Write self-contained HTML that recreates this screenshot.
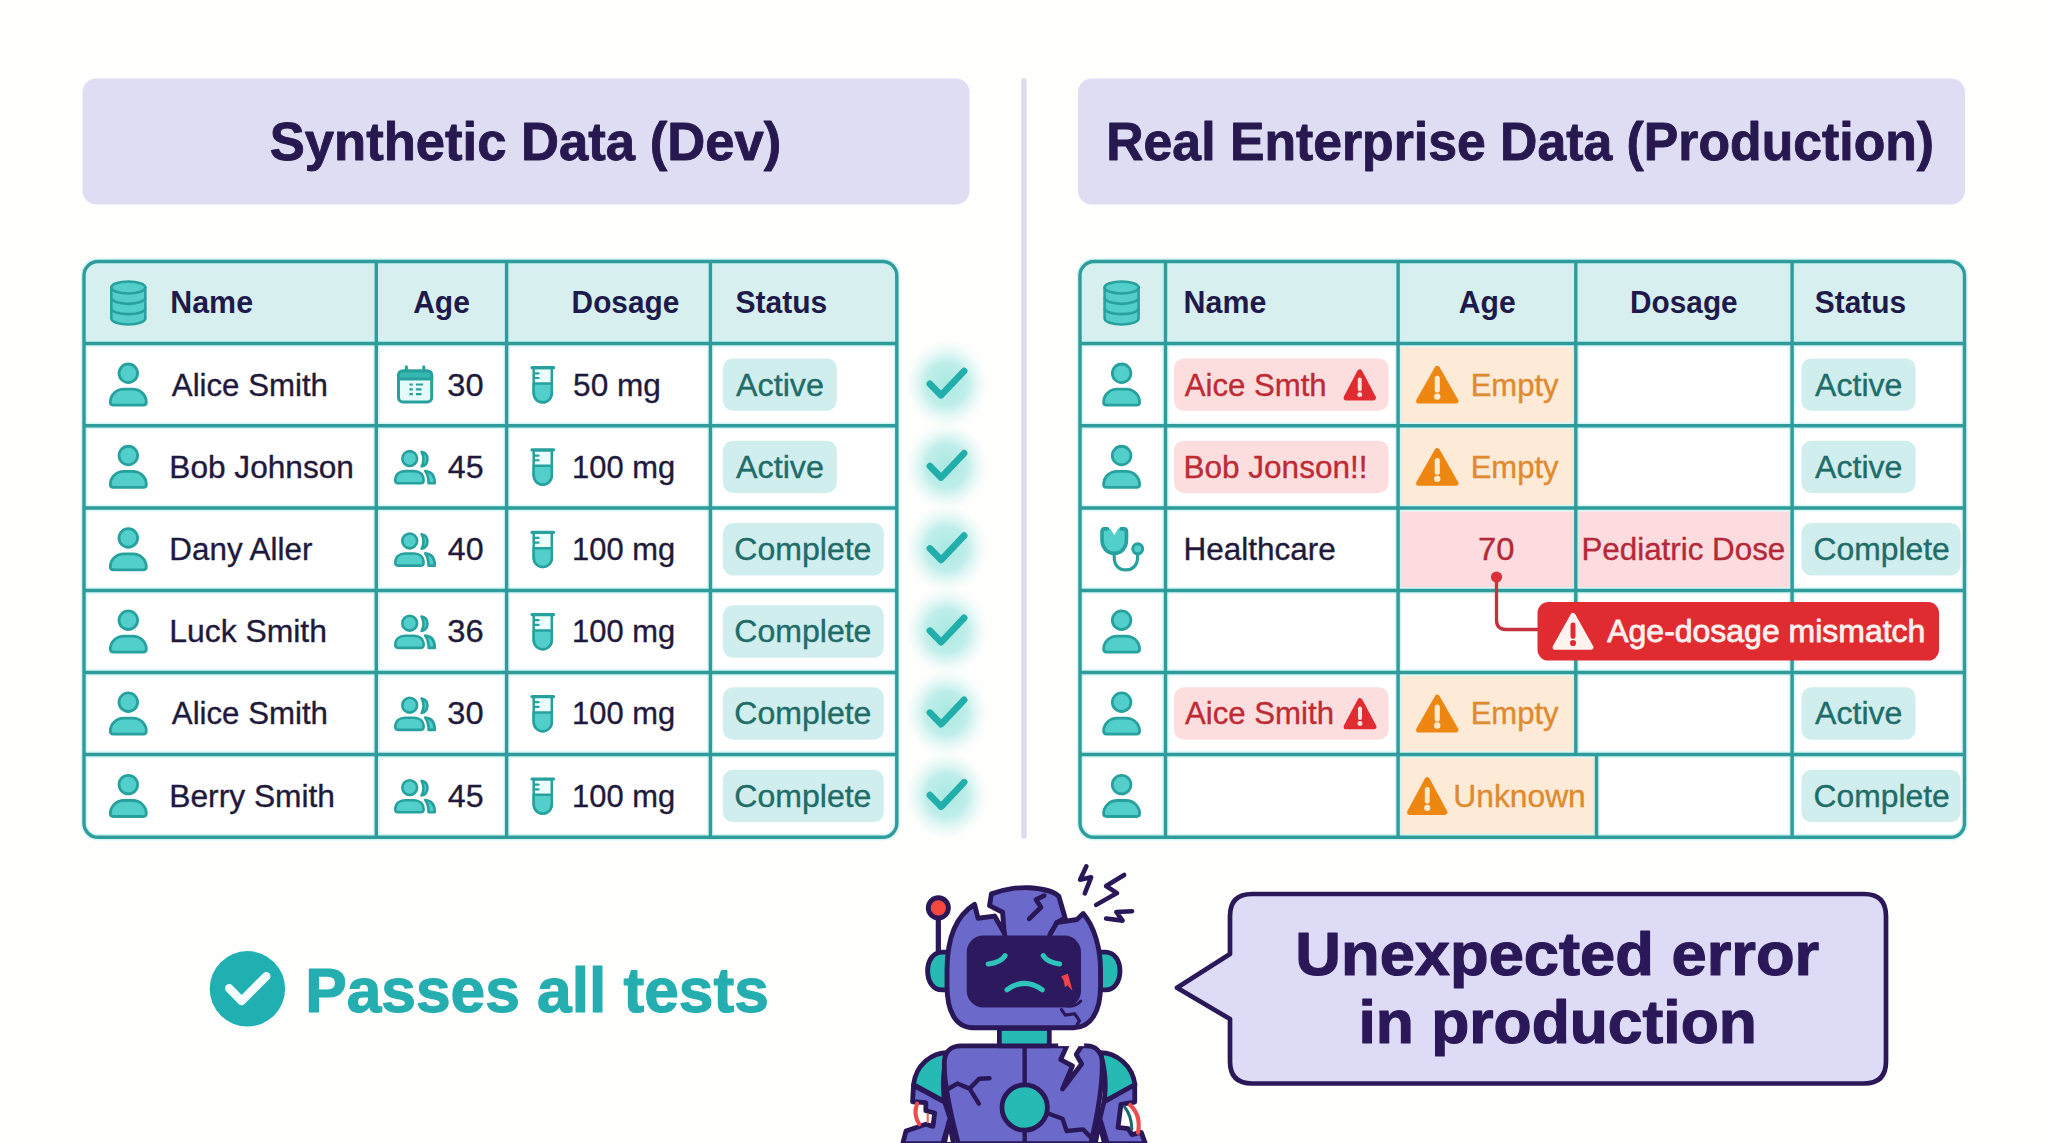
<!DOCTYPE html>
<html lang="en"><head><meta charset="utf-8"><title>Synthetic vs Real Enterprise Data</title>
<style>
html,body{margin:0;padding:0;background:#fefefd;}
body{width:2048px;height:1143px;overflow:hidden;font-family:'Liberation Sans', sans-serif;}
svg{display:block}
</style></head><body>
<svg width="2048" height="1143" viewBox="0 0 2048 1143" font-family="'Liberation Sans', sans-serif">
<defs>
<radialGradient id="glow"><stop offset="0" stop-color="#a9e8e2" stop-opacity="1"/><stop offset="0.5" stop-color="#b4ebe6" stop-opacity="0.85"/><stop offset="0.8" stop-color="#cdf2ee" stop-opacity="0.35"/><stop offset="1" stop-color="#e0f8f5" stop-opacity="0"/></radialGradient>
</defs>
<rect width="2048" height="1143" fill="#fefefd"/>
<rect x="82.5" y="78.5" width="887" height="126" rx="14" fill="#dfddf4"/>
<rect x="1078" y="78.5" width="887" height="126" rx="14" fill="#dfddf4"/>
<text x="269.68" y="159.8" font-size="53.5" fill="#27184f" font-weight="bold" text-anchor="start" textLength="511.64" lengthAdjust="spacingAndGlyphs" stroke="#27184f" stroke-width="0.9" stroke-linejoin="round">Synthetic Data (Dev)</text>
<text x="1106.24" y="159.8" font-size="53.5" fill="#27184f" font-weight="bold" text-anchor="start" textLength="827.84" lengthAdjust="spacingAndGlyphs" stroke="#27184f" stroke-width="0.9" stroke-linejoin="round">Real Enterprise Data (Production)</text>
<rect x="1021.3" y="78.3" width="5.3" height="760.3" rx="2.6" fill="#dcd9f0"/>
<rect x="84" y="261.5" width="812.8" height="575.8" rx="14" fill="#ffffff"/>
<path d="M84,343.5 V275.5 Q84,261.5 98,261.5 H882.8 Q896.8,261.5 896.8,275.5 V343.5 Z" fill="#d7f0ef"/>
<g stroke="#c4f3f2" stroke-opacity="0.75" stroke-width="6.4" fill="none">
<path d="M84,343.5 H896.8"/>
<path d="M84,425.7 H896.8"/>
<path d="M84,508 H896.8"/>
<path d="M84,590.5 H896.8"/>
<path d="M84,672.5 H896.8"/>
<path d="M84,754.5 H896.8"/>
<path d="M376.3,261.5 V837.3"/>
<path d="M506.6,261.5 V837.3"/>
<path d="M710.4,261.5 V837.3"/>
<rect x="84" y="261.5" width="812.8" height="575.8" rx="14"/>
</g>
<g stroke="#2f9c9b" stroke-width="3.4" fill="none">
<path d="M84,343.5 H896.8"/>
<path d="M84,425.7 H896.8"/>
<path d="M84,508 H896.8"/>
<path d="M84,590.5 H896.8"/>
<path d="M84,672.5 H896.8"/>
<path d="M84,754.5 H896.8"/>
<path d="M376.3,261.5 V837.3"/>
<path d="M506.6,261.5 V837.3"/>
<path d="M710.4,261.5 V837.3"/>
<rect x="84" y="261.5" width="812.8" height="575.8" rx="14"/>
</g>
<g stroke="#27a19d" stroke-width="2.6" fill="#52cfca" stroke-linejoin="round">
<path d="M111.30000000000001,287.5 V318.5 A17,6 0 0 0 145.3,318.5 V287.5 Z"/>
<ellipse cx="128.3" cy="287.5" rx="17" ry="6"/>
<path d="M111.30000000000001,297.8333333333333 A17,6 0 0 0 145.3,297.8333333333333" fill="none"/>
<path d="M111.30000000000001,308.1666666666667 A17,6 0 0 0 145.3,308.1666666666667" fill="none"/>
</g>
<text x="170.27" y="313.4" font-size="32" fill="#1e1a4b" font-weight="bold" text-anchor="start" textLength="82.77" lengthAdjust="spacingAndGlyphs">Name</text>
<text x="413.15" y="313.4" font-size="32" fill="#1e1a4b" font-weight="bold" text-anchor="start" textLength="56.67" lengthAdjust="spacingAndGlyphs">Age</text>
<text x="571.61" y="313.4" font-size="32" fill="#1e1a4b" font-weight="bold" text-anchor="start" textLength="107.71" lengthAdjust="spacingAndGlyphs">Dosage</text>
<text x="735.43" y="313.4" font-size="32" fill="#1e1a4b" font-weight="bold" text-anchor="start" textLength="91.80" lengthAdjust="spacingAndGlyphs">Status</text>
<g stroke="#27a19d" stroke-width="2.8" fill="#52cfca" stroke-linejoin="round">
<circle cx="128.3" cy="373.3" r="9.3"/>
<path d="M110.30000000000001,402.20000000000005 C110.30000000000001,394.70000000000005 116.80000000000001,389.20000000000005 123.80000000000001,389.20000000000005 H132.8 C139.8,389.20000000000005 146.3,394.70000000000005 146.3,402.20000000000005 Q146.3,405.20000000000005 143.3,405.20000000000005 H113.30000000000001 Q110.30000000000001,405.20000000000005 110.30000000000001,402.20000000000005 Z"/>
</g>
<text x="171.84" y="395.5" font-size="31" fill="#1f1a3b" font-weight="normal" text-anchor="start" textLength="156.09" lengthAdjust="spacingAndGlyphs" stroke="#1f1a3b" stroke-width="0.35">Alice Smith</text>
<g stroke="#27a19d" stroke-width="3" stroke-linejoin="round" stroke-linecap="round">
<rect x="398.5" y="370.90000000000003" width="33.200000000000045" height="31.099999999999966" rx="4.5" fill="#e4fbfa"/>
<path d="M398.5,378.90000000000003 V375.40000000000003 Q398.5,370.90000000000003 403.0,370.90000000000003 H427.20000000000005 Q431.70000000000005,370.90000000000003 431.70000000000005,375.40000000000003 V378.90000000000003 Z" fill="#35b7b2"/>
<path d="M406.40000000000003,366.70000000000005 V370.90000000000003 M423.8,366.70000000000005 V370.90000000000003" fill="none"/>
</g>
<g stroke="#27a19d" stroke-width="2.2" fill="none">
<path d="M409.40000000000003,384.50000000000006 h3.4 M415.90000000000003,384.50000000000006 h7.2"/>
<path d="M409.40000000000003,389.30000000000007 h3.4 M415.90000000000003,389.30000000000007 h5.6"/>
<path d="M409.40000000000003,394.1000000000001 h3.4 M415.90000000000003,394.1000000000001 h5.6"/>
</g>
<text x="447.36" y="395.5" font-size="31" fill="#1f1a3b" font-weight="normal" text-anchor="start" textLength="36.21" lengthAdjust="spacingAndGlyphs" stroke="#1f1a3b" stroke-width="0.35">30</text>
<g transform="translate(0,-0.0999999999999659)" stroke="#27a19d" stroke-width="2.5" stroke-linejoin="round" stroke-linecap="round">
<path d="M533.7,368 V392.6 C533.7,398.5 537.5,402.4 542.8,402.4 C548,402.4 551.8,398.5 551.8,392.6 V368 Z" fill="#eafcfb"/>
<path d="M533.7,383.6 H551.8 V392.6 C551.8,398.5 548,402.4 542.8,402.4 C537.5,402.4 533.7,398.5 533.7,392.6 Z" fill="#52cfca"/>
<path d="M532,367.8 H553.6" fill="none" stroke-width="3.2"/>
<path d="M534,373.4 h4.6 M534,378.1 h4.6" fill="none" stroke-width="2.2"/>
</g>
<text x="573.14" y="395.5" font-size="31" fill="#1f1a3b" font-weight="normal" text-anchor="start" textLength="87.70" lengthAdjust="spacingAndGlyphs" stroke="#1f1a3b" stroke-width="0.35">50 mg</text>
<rect x="723" y="358.40000000000003" width="113.79999999999995" height="52.4" rx="10" fill="#cfeeed"/>
<text x="735.94" y="395.5" font-size="31" fill="#1f6c69" font-weight="normal" text-anchor="start" textLength="88.00" lengthAdjust="spacingAndGlyphs" stroke="#1f6c69" stroke-width="0.35">Active</text>
<ellipse cx="946.5" cy="384.0" rx="41" ry="44" fill="url(#glow)"/>
<path d="M929.9,383.8 L941.1,395.3 L964.1,371.0" fill="none" stroke="#22aeaa" stroke-width="6.7" stroke-linecap="round" stroke-linejoin="round"/>
<g stroke="#27a19d" stroke-width="2.8" fill="#52cfca" stroke-linejoin="round">
<circle cx="128.3" cy="455.55" r="9.3"/>
<path d="M110.30000000000001,484.45000000000005 C110.30000000000001,476.95000000000005 116.80000000000001,471.45000000000005 123.80000000000001,471.45000000000005 H132.8 C139.8,471.45000000000005 146.3,476.95000000000005 146.3,484.45000000000005 Q146.3,487.45000000000005 143.3,487.45000000000005 H113.30000000000001 Q110.30000000000001,487.45000000000005 110.30000000000001,484.45000000000005 Z"/>
</g>
<text x="169.31" y="477.75" font-size="31" fill="#1f1a3b" font-weight="normal" text-anchor="start" textLength="184.65" lengthAdjust="spacingAndGlyphs" stroke="#1f1a3b" stroke-width="0.35">Bob Johnson</text>
<g transform="translate(0,-0.049999999999954525)" stroke="#27a19d" stroke-width="2.6" fill="#52cfca" stroke-linejoin="round">
<circle cx="409.7" cy="458.6" r="7.4"/>
<path d="M395.3,480.5 C395.3,474 400,471.2 405,471.2 H414 C419,471.2 423.6,474 423.6,480.5 Q423.6,483.3 421,483.3 H398 Q395.3,483.3 395.3,480.5 Z"/>
<path d="M421.6,451.9 C426,452.6 427.4,456 427.4,459 C427.4,462 426,465.6 421.6,466.4 C424,462 424,456.5 421.6,451.9 Z"/>
<path d="M425.2,471 C431.5,471.5 434.8,476 434.8,483.3 H428.6 C428.6,478 427.5,474 425.2,471 Z"/>
</g>
<text x="447.86" y="477.75" font-size="31" fill="#1f1a3b" font-weight="normal" text-anchor="start" textLength="35.79" lengthAdjust="spacingAndGlyphs" stroke="#1f1a3b" stroke-width="0.35">45</text>
<g transform="translate(0,82.15000000000003)" stroke="#27a19d" stroke-width="2.5" stroke-linejoin="round" stroke-linecap="round">
<path d="M533.7,368 V392.6 C533.7,398.5 537.5,402.4 542.8,402.4 C548,402.4 551.8,398.5 551.8,392.6 V368 Z" fill="#eafcfb"/>
<path d="M533.7,383.6 H551.8 V392.6 C551.8,398.5 548,402.4 542.8,402.4 C537.5,402.4 533.7,398.5 533.7,392.6 Z" fill="#52cfca"/>
<path d="M532,367.8 H553.6" fill="none" stroke-width="3.2"/>
<path d="M534,373.4 h4.6 M534,378.1 h4.6" fill="none" stroke-width="2.2"/>
</g>
<text x="572.05" y="477.75" font-size="31" fill="#1f1a3b" font-weight="normal" text-anchor="start" textLength="103.04" lengthAdjust="spacingAndGlyphs" stroke="#1f1a3b" stroke-width="0.35">100 mg</text>
<rect x="723" y="440.65000000000003" width="113.79999999999995" height="52.4" rx="10" fill="#cfeeed"/>
<text x="735.94" y="477.75" font-size="31" fill="#1f6c69" font-weight="normal" text-anchor="start" textLength="88.00" lengthAdjust="spacingAndGlyphs" stroke="#1f6c69" stroke-width="0.35">Active</text>
<ellipse cx="946.5" cy="466.25" rx="41" ry="44" fill="url(#glow)"/>
<path d="M929.9,466.05 L941.1,477.55 L964.1,453.25" fill="none" stroke="#22aeaa" stroke-width="6.7" stroke-linecap="round" stroke-linejoin="round"/>
<g stroke="#27a19d" stroke-width="2.8" fill="#52cfca" stroke-linejoin="round">
<circle cx="128.3" cy="537.95" r="9.3"/>
<path d="M110.30000000000001,566.85 C110.30000000000001,559.35 116.80000000000001,553.85 123.80000000000001,553.85 H132.8 C139.8,553.85 146.3,559.35 146.3,566.85 Q146.3,569.85 143.3,569.85 H113.30000000000001 Q110.30000000000001,569.85 110.30000000000001,566.85 Z"/>
</g>
<text x="169.36" y="560.15" font-size="31" fill="#1f1a3b" font-weight="normal" text-anchor="start" textLength="143.06" lengthAdjust="spacingAndGlyphs" stroke="#1f1a3b" stroke-width="0.35">Dany Aller</text>
<g transform="translate(0,82.35000000000002)" stroke="#27a19d" stroke-width="2.6" fill="#52cfca" stroke-linejoin="round">
<circle cx="409.7" cy="458.6" r="7.4"/>
<path d="M395.3,480.5 C395.3,474 400,471.2 405,471.2 H414 C419,471.2 423.6,474 423.6,480.5 Q423.6,483.3 421,483.3 H398 Q395.3,483.3 395.3,480.5 Z"/>
<path d="M421.6,451.9 C426,452.6 427.4,456 427.4,459 C427.4,462 426,465.6 421.6,466.4 C424,462 424,456.5 421.6,451.9 Z"/>
<path d="M425.2,471 C431.5,471.5 434.8,476 434.8,483.3 H428.6 C428.6,478 427.5,474 425.2,471 Z"/>
</g>
<text x="447.86" y="560.15" font-size="31" fill="#1f1a3b" font-weight="normal" text-anchor="start" textLength="35.69" lengthAdjust="spacingAndGlyphs" stroke="#1f1a3b" stroke-width="0.35">40</text>
<g transform="translate(0,164.54999999999995)" stroke="#27a19d" stroke-width="2.5" stroke-linejoin="round" stroke-linecap="round">
<path d="M533.7,368 V392.6 C533.7,398.5 537.5,402.4 542.8,402.4 C548,402.4 551.8,398.5 551.8,392.6 V368 Z" fill="#eafcfb"/>
<path d="M533.7,383.6 H551.8 V392.6 C551.8,398.5 548,402.4 542.8,402.4 C537.5,402.4 533.7,398.5 533.7,392.6 Z" fill="#52cfca"/>
<path d="M532,367.8 H553.6" fill="none" stroke-width="3.2"/>
<path d="M534,373.4 h4.6 M534,378.1 h4.6" fill="none" stroke-width="2.2"/>
</g>
<text x="572.05" y="560.15" font-size="31" fill="#1f1a3b" font-weight="normal" text-anchor="start" textLength="103.04" lengthAdjust="spacingAndGlyphs" stroke="#1f1a3b" stroke-width="0.35">100 mg</text>
<rect x="723" y="523.05" width="160.79999999999995" height="52.4" rx="10" fill="#cfeeed"/>
<text x="734.37" y="560.15" font-size="31" fill="#1f6c69" font-weight="normal" text-anchor="start" textLength="137.05" lengthAdjust="spacingAndGlyphs" stroke="#1f6c69" stroke-width="0.35">Complete</text>
<ellipse cx="946.5" cy="548.65" rx="41" ry="44" fill="url(#glow)"/>
<path d="M929.9,548.4499999999999 L941.1,559.9499999999999 L964.1,535.65" fill="none" stroke="#22aeaa" stroke-width="6.7" stroke-linecap="round" stroke-linejoin="round"/>
<g stroke="#27a19d" stroke-width="2.8" fill="#52cfca" stroke-linejoin="round">
<circle cx="128.3" cy="620.2" r="9.3"/>
<path d="M110.30000000000001,649.1 C110.30000000000001,641.6 116.80000000000001,636.1 123.80000000000001,636.1 H132.8 C139.8,636.1 146.3,641.6 146.3,649.1 Q146.3,652.1 143.3,652.1 H113.30000000000001 Q110.30000000000001,652.1 110.30000000000001,649.1 Z"/>
</g>
<text x="169.28" y="642.4" font-size="31" fill="#1f1a3b" font-weight="normal" text-anchor="start" textLength="157.69" lengthAdjust="spacingAndGlyphs" stroke="#1f1a3b" stroke-width="0.35">Luck Smith</text>
<g transform="translate(0,164.60000000000002)" stroke="#27a19d" stroke-width="2.6" fill="#52cfca" stroke-linejoin="round">
<circle cx="409.7" cy="458.6" r="7.4"/>
<path d="M395.3,480.5 C395.3,474 400,471.2 405,471.2 H414 C419,471.2 423.6,474 423.6,480.5 Q423.6,483.3 421,483.3 H398 Q395.3,483.3 395.3,480.5 Z"/>
<path d="M421.6,451.9 C426,452.6 427.4,456 427.4,459 C427.4,462 426,465.6 421.6,466.4 C424,462 424,456.5 421.6,451.9 Z"/>
<path d="M425.2,471 C431.5,471.5 434.8,476 434.8,483.3 H428.6 C428.6,478 427.5,474 425.2,471 Z"/>
</g>
<text x="447.35" y="642.4" font-size="31" fill="#1f1a3b" font-weight="normal" text-anchor="start" textLength="36.38" lengthAdjust="spacingAndGlyphs" stroke="#1f1a3b" stroke-width="0.35">36</text>
<g transform="translate(0,246.79999999999995)" stroke="#27a19d" stroke-width="2.5" stroke-linejoin="round" stroke-linecap="round">
<path d="M533.7,368 V392.6 C533.7,398.5 537.5,402.4 542.8,402.4 C548,402.4 551.8,398.5 551.8,392.6 V368 Z" fill="#eafcfb"/>
<path d="M533.7,383.6 H551.8 V392.6 C551.8,398.5 548,402.4 542.8,402.4 C537.5,402.4 533.7,398.5 533.7,392.6 Z" fill="#52cfca"/>
<path d="M532,367.8 H553.6" fill="none" stroke-width="3.2"/>
<path d="M534,373.4 h4.6 M534,378.1 h4.6" fill="none" stroke-width="2.2"/>
</g>
<text x="572.05" y="642.4" font-size="31" fill="#1f1a3b" font-weight="normal" text-anchor="start" textLength="103.04" lengthAdjust="spacingAndGlyphs" stroke="#1f1a3b" stroke-width="0.35">100 mg</text>
<rect x="723" y="605.3" width="160.79999999999995" height="52.4" rx="10" fill="#cfeeed"/>
<text x="734.37" y="642.4" font-size="31" fill="#1f6c69" font-weight="normal" text-anchor="start" textLength="137.05" lengthAdjust="spacingAndGlyphs" stroke="#1f6c69" stroke-width="0.35">Complete</text>
<ellipse cx="946.5" cy="630.9" rx="41" ry="44" fill="url(#glow)"/>
<path d="M929.9,630.6999999999999 L941.1,642.1999999999999 L964.1,617.9" fill="none" stroke="#22aeaa" stroke-width="6.7" stroke-linecap="round" stroke-linejoin="round"/>
<g stroke="#27a19d" stroke-width="2.8" fill="#52cfca" stroke-linejoin="round">
<circle cx="128.3" cy="702.2" r="9.3"/>
<path d="M110.30000000000001,731.1 C110.30000000000001,723.6 116.80000000000001,718.1 123.80000000000001,718.1 H132.8 C139.8,718.1 146.3,723.6 146.3,731.1 Q146.3,734.1 143.3,734.1 H113.30000000000001 Q110.30000000000001,734.1 110.30000000000001,731.1 Z"/>
</g>
<text x="171.84" y="724.4" font-size="31" fill="#1f1a3b" font-weight="normal" text-anchor="start" textLength="156.09" lengthAdjust="spacingAndGlyphs" stroke="#1f1a3b" stroke-width="0.35">Alice Smith</text>
<g transform="translate(0,246.60000000000002)" stroke="#27a19d" stroke-width="2.6" fill="#52cfca" stroke-linejoin="round">
<circle cx="409.7" cy="458.6" r="7.4"/>
<path d="M395.3,480.5 C395.3,474 400,471.2 405,471.2 H414 C419,471.2 423.6,474 423.6,480.5 Q423.6,483.3 421,483.3 H398 Q395.3,483.3 395.3,480.5 Z"/>
<path d="M421.6,451.9 C426,452.6 427.4,456 427.4,459 C427.4,462 426,465.6 421.6,466.4 C424,462 424,456.5 421.6,451.9 Z"/>
<path d="M425.2,471 C431.5,471.5 434.8,476 434.8,483.3 H428.6 C428.6,478 427.5,474 425.2,471 Z"/>
</g>
<text x="447.36" y="724.4" font-size="31" fill="#1f1a3b" font-weight="normal" text-anchor="start" textLength="36.21" lengthAdjust="spacingAndGlyphs" stroke="#1f1a3b" stroke-width="0.35">30</text>
<g transform="translate(0,328.79999999999995)" stroke="#27a19d" stroke-width="2.5" stroke-linejoin="round" stroke-linecap="round">
<path d="M533.7,368 V392.6 C533.7,398.5 537.5,402.4 542.8,402.4 C548,402.4 551.8,398.5 551.8,392.6 V368 Z" fill="#eafcfb"/>
<path d="M533.7,383.6 H551.8 V392.6 C551.8,398.5 548,402.4 542.8,402.4 C537.5,402.4 533.7,398.5 533.7,392.6 Z" fill="#52cfca"/>
<path d="M532,367.8 H553.6" fill="none" stroke-width="3.2"/>
<path d="M534,373.4 h4.6 M534,378.1 h4.6" fill="none" stroke-width="2.2"/>
</g>
<text x="572.05" y="724.4" font-size="31" fill="#1f1a3b" font-weight="normal" text-anchor="start" textLength="103.04" lengthAdjust="spacingAndGlyphs" stroke="#1f1a3b" stroke-width="0.35">100 mg</text>
<rect x="723" y="687.3" width="160.79999999999995" height="52.4" rx="10" fill="#cfeeed"/>
<text x="734.37" y="724.4" font-size="31" fill="#1f6c69" font-weight="normal" text-anchor="start" textLength="137.05" lengthAdjust="spacingAndGlyphs" stroke="#1f6c69" stroke-width="0.35">Complete</text>
<ellipse cx="946.5" cy="712.9" rx="41" ry="44" fill="url(#glow)"/>
<path d="M929.9,712.6999999999999 L941.1,724.1999999999999 L964.1,699.9" fill="none" stroke="#22aeaa" stroke-width="6.7" stroke-linecap="round" stroke-linejoin="round"/>
<g stroke="#27a19d" stroke-width="2.8" fill="#52cfca" stroke-linejoin="round">
<circle cx="128.3" cy="784.6" r="9.3"/>
<path d="M110.30000000000001,813.5 C110.30000000000001,806.0 116.80000000000001,800.5 123.80000000000001,800.5 H132.8 C139.8,800.5 146.3,806.0 146.3,813.5 Q146.3,816.5 143.3,816.5 H113.30000000000001 Q110.30000000000001,816.5 110.30000000000001,813.5 Z"/>
</g>
<text x="169.3" y="806.8" font-size="31" fill="#1f1a3b" font-weight="normal" text-anchor="start" textLength="165.66" lengthAdjust="spacingAndGlyphs" stroke="#1f1a3b" stroke-width="0.35">Berry Smith</text>
<g transform="translate(0,329.0)" stroke="#27a19d" stroke-width="2.6" fill="#52cfca" stroke-linejoin="round">
<circle cx="409.7" cy="458.6" r="7.4"/>
<path d="M395.3,480.5 C395.3,474 400,471.2 405,471.2 H414 C419,471.2 423.6,474 423.6,480.5 Q423.6,483.3 421,483.3 H398 Q395.3,483.3 395.3,480.5 Z"/>
<path d="M421.6,451.9 C426,452.6 427.4,456 427.4,459 C427.4,462 426,465.6 421.6,466.4 C424,462 424,456.5 421.6,451.9 Z"/>
<path d="M425.2,471 C431.5,471.5 434.8,476 434.8,483.3 H428.6 C428.6,478 427.5,474 425.2,471 Z"/>
</g>
<text x="447.86" y="806.8" font-size="31" fill="#1f1a3b" font-weight="normal" text-anchor="start" textLength="35.79" lengthAdjust="spacingAndGlyphs" stroke="#1f1a3b" stroke-width="0.35">45</text>
<g transform="translate(0,411.19999999999993)" stroke="#27a19d" stroke-width="2.5" stroke-linejoin="round" stroke-linecap="round">
<path d="M533.7,368 V392.6 C533.7,398.5 537.5,402.4 542.8,402.4 C548,402.4 551.8,398.5 551.8,392.6 V368 Z" fill="#eafcfb"/>
<path d="M533.7,383.6 H551.8 V392.6 C551.8,398.5 548,402.4 542.8,402.4 C537.5,402.4 533.7,398.5 533.7,392.6 Z" fill="#52cfca"/>
<path d="M532,367.8 H553.6" fill="none" stroke-width="3.2"/>
<path d="M534,373.4 h4.6 M534,378.1 h4.6" fill="none" stroke-width="2.2"/>
</g>
<text x="572.05" y="806.8" font-size="31" fill="#1f1a3b" font-weight="normal" text-anchor="start" textLength="103.04" lengthAdjust="spacingAndGlyphs" stroke="#1f1a3b" stroke-width="0.35">100 mg</text>
<rect x="723" y="769.6999999999999" width="160.79999999999995" height="52.4" rx="10" fill="#cfeeed"/>
<text x="734.37" y="806.8" font-size="31" fill="#1f6c69" font-weight="normal" text-anchor="start" textLength="137.05" lengthAdjust="spacingAndGlyphs" stroke="#1f6c69" stroke-width="0.35">Complete</text>
<ellipse cx="946.5" cy="795.3" rx="41" ry="44" fill="url(#glow)"/>
<path d="M929.9,795.0999999999999 L941.1,806.5999999999999 L964.1,782.3" fill="none" stroke="#22aeaa" stroke-width="6.7" stroke-linecap="round" stroke-linejoin="round"/>
<rect x="1080" y="261.5" width="884.5" height="575.8" rx="14" fill="#ffffff"/>
<path d="M1080,343.5 V275.5 Q1080,261.5 1094,261.5 H1950.5 Q1964.5,261.5 1964.5,275.5 V343.5 Z" fill="#d7f0ef"/>
<rect x="1400.3" y="346.9" width="174.30000000000004" height="75.79999999999998" fill="#fdebd8"/>
<rect x="1400.3" y="429.09999999999997" width="174.30000000000004" height="75.9" fill="#fdebd8"/>
<rect x="1400.3" y="511.4" width="174.30000000000004" height="76.1" fill="#fcdcde"/>
<rect x="1578.0" y="511.4" width="212.89999999999995" height="76.1" fill="#fcdcde"/>
<rect x="1400.3" y="675.9" width="174.30000000000004" height="75.6" fill="#fdebd8"/>
<rect x="1400.3" y="757.9" width="195.00000000000009" height="76.39999999999995" fill="#fdebd8"/>
<g stroke="#c4f3f2" stroke-opacity="0.75" stroke-width="6.4" fill="none">
<path d="M1080,343.5 H1964.5"/>
<path d="M1080,425.7 H1964.5"/>
<path d="M1080,508 H1964.5"/>
<path d="M1080,590.5 H1964.5"/>
<path d="M1080,672.5 H1964.5"/>
<path d="M1080,754.5 H1964.5"/>
<path d="M1165.5,261.5 V837.3"/>
<path d="M1398.1,261.5 V837.3"/>
<path d="M1575.8,261.5 V754.5"/>
<path d="M1596.5,754.5 V837.3"/>
<path d="M1792.1,261.5 V837.3"/>
<rect x="1080" y="261.5" width="884.5" height="575.8" rx="14"/>
</g>
<g stroke="#2f9c9b" stroke-width="3.4" fill="none">
<path d="M1080,343.5 H1964.5"/>
<path d="M1080,425.7 H1964.5"/>
<path d="M1080,508 H1964.5"/>
<path d="M1080,590.5 H1964.5"/>
<path d="M1080,672.5 H1964.5"/>
<path d="M1080,754.5 H1964.5"/>
<path d="M1165.5,261.5 V837.3"/>
<path d="M1398.1,261.5 V837.3"/>
<path d="M1575.8,261.5 V754.5"/>
<path d="M1596.5,754.5 V837.3"/>
<path d="M1792.1,261.5 V837.3"/>
<rect x="1080" y="261.5" width="884.5" height="575.8" rx="14"/>
</g>
<g stroke="#27a19d" stroke-width="2.6" fill="#52cfca" stroke-linejoin="round">
<path d="M1104.6,287.5 V318.5 A17,6 0 0 0 1138.6,318.5 V287.5 Z"/>
<ellipse cx="1121.6" cy="287.5" rx="17" ry="6"/>
<path d="M1104.6,297.8333333333333 A17,6 0 0 0 1138.6,297.8333333333333" fill="none"/>
<path d="M1104.6,308.1666666666667 A17,6 0 0 0 1138.6,308.1666666666667" fill="none"/>
</g>
<text x="1183.57" y="313.4" font-size="32" fill="#1e1a4b" font-weight="bold" text-anchor="start" textLength="82.77" lengthAdjust="spacingAndGlyphs">Name</text>
<text x="1458.85" y="313.4" font-size="32" fill="#1e1a4b" font-weight="bold" text-anchor="start" textLength="56.88" lengthAdjust="spacingAndGlyphs">Age</text>
<text x="1630.11" y="313.4" font-size="32" fill="#1e1a4b" font-weight="bold" text-anchor="start" textLength="107.51" lengthAdjust="spacingAndGlyphs">Dosage</text>
<text x="1814.84" y="313.4" font-size="32" fill="#1e1a4b" font-weight="bold" text-anchor="start" textLength="91.39" lengthAdjust="spacingAndGlyphs">Status</text>
<g stroke="#27a19d" stroke-width="2.8" fill="#52cfca" stroke-linejoin="round">
<circle cx="1121.6" cy="373.3" r="9.3"/>
<path d="M1103.6,402.20000000000005 C1103.6,394.70000000000005 1110.1,389.20000000000005 1117.1,389.20000000000005 H1126.1 C1133.1,389.20000000000005 1139.6,394.70000000000005 1139.6,402.20000000000005 Q1139.6,405.20000000000005 1136.6,405.20000000000005 H1106.6 Q1103.6,405.20000000000005 1103.6,402.20000000000005 Z"/>
</g>
<rect x="1174" y="358.40000000000003" width="214.5999999999999" height="52.4" rx="10" fill="#fcdedf"/>
<text x="1184.74" y="395.5" font-size="31" fill="#bd2b34" font-weight="normal" text-anchor="start" textLength="141.88" lengthAdjust="spacingAndGlyphs" stroke="#bd2b34" stroke-width="0.35">Aice Smth</text>
<path d="M1359.75,371.90000000000003 L1373.3000000000002,397.8 H1346.1999999999998 Z" fill="#e02c31" stroke="#e02c31" stroke-width="5.2" stroke-linejoin="round"/>
<path d="M1359.75,379.56300000000005 V389.204" stroke="#fde4e0" stroke-width="3.95" stroke-linecap="round" fill="none"/>
<circle cx="1359.75" cy="394.6465" r="2.45" fill="#fde4e0"/>
<path d="M1437.25,368.40000000000003 L1455.8000000000002,401.0 H1418.6999999999998 Z" fill="#ee8612" stroke="#ee8612" stroke-width="5.2" stroke-linejoin="round"/>
<path d="M1437.25,378.274 V389.992" stroke="#fdebd0" stroke-width="5.13" stroke-linecap="round" fill="none"/>
<circle cx="1437.25" cy="396.607" r="3.18" fill="#fdebd0"/>
<text x="1470.66" y="395.5" font-size="31" fill="#df8a2e" font-weight="normal" text-anchor="start" textLength="87.91" lengthAdjust="spacingAndGlyphs" stroke="#df8a2e" stroke-width="0.35">Empty</text>
<rect x="1801.4" y="358.40000000000003" width="114.19999999999982" height="52.4" rx="10" fill="#cfeeed"/>
<text x="1815.14" y="395.5" font-size="31" fill="#1f6c69" font-weight="normal" text-anchor="start" textLength="87.29" lengthAdjust="spacingAndGlyphs" stroke="#1f6c69" stroke-width="0.35">Active</text>
<g stroke="#27a19d" stroke-width="2.8" fill="#52cfca" stroke-linejoin="round">
<circle cx="1121.6" cy="455.55" r="9.3"/>
<path d="M1103.6,484.45000000000005 C1103.6,476.95000000000005 1110.1,471.45000000000005 1117.1,471.45000000000005 H1126.1 C1133.1,471.45000000000005 1139.6,476.95000000000005 1139.6,484.45000000000005 Q1139.6,487.45000000000005 1136.6,487.45000000000005 H1106.6 Q1103.6,487.45000000000005 1103.6,484.45000000000005 Z"/>
</g>
<rect x="1174" y="440.65000000000003" width="214.5999999999999" height="52.4" rx="10" fill="#fcdedf"/>
<text x="1183.52" y="477.75" font-size="31" fill="#bd2b34" font-weight="normal" text-anchor="start" textLength="183.95" lengthAdjust="spacingAndGlyphs" stroke="#bd2b34" stroke-width="0.35">Bob Jonson!!</text>
<path d="M1437.25,450.65000000000003 L1455.8000000000002,483.25 H1418.6999999999998 Z" fill="#ee8612" stroke="#ee8612" stroke-width="5.2" stroke-linejoin="round"/>
<path d="M1437.25,460.524 V472.242" stroke="#fdebd0" stroke-width="5.13" stroke-linecap="round" fill="none"/>
<circle cx="1437.25" cy="478.857" r="3.18" fill="#fdebd0"/>
<text x="1470.66" y="477.75" font-size="31" fill="#df8a2e" font-weight="normal" text-anchor="start" textLength="87.91" lengthAdjust="spacingAndGlyphs" stroke="#df8a2e" stroke-width="0.35">Empty</text>
<rect x="1801.4" y="440.65000000000003" width="114.19999999999982" height="52.4" rx="10" fill="#cfeeed"/>
<text x="1815.14" y="477.75" font-size="31" fill="#1f6c69" font-weight="normal" text-anchor="start" textLength="87.29" lengthAdjust="spacingAndGlyphs" stroke="#1f6c69" stroke-width="0.35">Active</text>
<g transform="translate(0,0.25)" stroke="#27a19d" stroke-linecap="round" stroke-linejoin="round">
<path d="M1107.5,528.6 H1104.5 Q1102,528.6 1102,531.5 V539 C1102,547.5 1107,553 1114.2,553 C1121.5,553 1126.5,547.5 1126.5,539 V531.5 Q1126.5,528.6 1124,528.6 H1118 L1114.3,535 L1110.5,528.6 Z" fill="#52cfca" stroke="none"/>
<path d="M1107.5,528.6 H1104.5 Q1102,528.6 1102,531.5 V539 C1102,547.5 1107,553 1114.2,553 C1121.5,553 1126.5,547.5 1126.5,539 V531.5 Q1126.5,528.6 1124,528.6 H1121" fill="none" stroke-width="3.6"/>
<path d="M1114.2,553.5 V557 C1114.2,565 1119,569.7 1125.8,569.7 C1132.5,569.7 1137.6,565 1137.6,557 V554" fill="none" stroke-width="3.2"/>
<circle cx="1137.7" cy="548.6" r="5" fill="#52cfca" stroke-width="3"/>
</g>
<text x="1183.52" y="560.15" font-size="31" fill="#1f1a3b" font-weight="normal" text-anchor="start" textLength="152.28" lengthAdjust="spacingAndGlyphs" stroke="#1f1a3b" stroke-width="0.35">Healthcare</text>
<text x="1478.02" y="560.15" font-size="31" fill="#b4283a" font-weight="normal" text-anchor="start" textLength="36.46" lengthAdjust="spacingAndGlyphs" stroke="#b4283a" stroke-width="0.35">70</text>
<text x="1581.43" y="560.15" font-size="31" fill="#b4283a" font-weight="normal" text-anchor="start" textLength="203.86" lengthAdjust="spacingAndGlyphs" stroke="#b4283a" stroke-width="0.35">Pediatric Dose</text>
<rect x="1801.4" y="523.05" width="159.19999999999982" height="52.4" rx="10" fill="#cfeeed"/>
<text x="1813.58" y="560.15" font-size="31" fill="#1f6c69" font-weight="normal" text-anchor="start" textLength="136.13" lengthAdjust="spacingAndGlyphs" stroke="#1f6c69" stroke-width="0.35">Complete</text>
<g stroke="#27a19d" stroke-width="2.8" fill="#52cfca" stroke-linejoin="round">
<circle cx="1121.6" cy="620.2" r="9.3"/>
<path d="M1103.6,649.1 C1103.6,641.6 1110.1,636.1 1117.1,636.1 H1126.1 C1133.1,636.1 1139.6,641.6 1139.6,649.1 Q1139.6,652.1 1136.6,652.1 H1106.6 Q1103.6,652.1 1103.6,649.1 Z"/>
</g>
<g stroke="#27a19d" stroke-width="2.8" fill="#52cfca" stroke-linejoin="round">
<circle cx="1121.6" cy="702.2" r="9.3"/>
<path d="M1103.6,731.1 C1103.6,723.6 1110.1,718.1 1117.1,718.1 H1126.1 C1133.1,718.1 1139.6,723.6 1139.6,731.1 Q1139.6,734.1 1136.6,734.1 H1106.6 Q1103.6,734.1 1103.6,731.1 Z"/>
</g>
<rect x="1174" y="687.3" width="214.5999999999999" height="52.4" rx="10" fill="#fcdedf"/>
<text x="1184.94" y="724.4" font-size="31" fill="#bd2b34" font-weight="normal" text-anchor="start" textLength="149.09" lengthAdjust="spacingAndGlyphs" stroke="#bd2b34" stroke-width="0.35">Aice Smith</text>
<path d="M1360.0,700.8000000000001 L1373.8000000000002,726.6999999999999 H1346.1999999999998 Z" fill="#e02c31" stroke="#e02c31" stroke-width="5.2" stroke-linejoin="round"/>
<path d="M1360.0,708.463 V718.104" stroke="#fde4e0" stroke-width="4.01" stroke-linecap="round" fill="none"/>
<circle cx="1360.0" cy="723.5464999999999" r="2.49" fill="#fde4e0"/>
<path d="M1437.25,697.3000000000001 L1455.8000000000002,729.9 H1418.6999999999998 Z" fill="#ee8612" stroke="#ee8612" stroke-width="5.2" stroke-linejoin="round"/>
<path d="M1437.25,707.174 V718.892" stroke="#fdebd0" stroke-width="5.13" stroke-linecap="round" fill="none"/>
<circle cx="1437.25" cy="725.5070000000001" r="3.18" fill="#fdebd0"/>
<text x="1470.66" y="724.4" font-size="31" fill="#df8a2e" font-weight="normal" text-anchor="start" textLength="87.91" lengthAdjust="spacingAndGlyphs" stroke="#df8a2e" stroke-width="0.35">Empty</text>
<rect x="1801.4" y="687.3" width="114.19999999999982" height="52.4" rx="10" fill="#cfeeed"/>
<text x="1815.14" y="724.4" font-size="31" fill="#1f6c69" font-weight="normal" text-anchor="start" textLength="87.29" lengthAdjust="spacingAndGlyphs" stroke="#1f6c69" stroke-width="0.35">Active</text>
<g stroke="#27a19d" stroke-width="2.8" fill="#52cfca" stroke-linejoin="round">
<circle cx="1121.6" cy="784.6" r="9.3"/>
<path d="M1103.6,813.5 C1103.6,806.0 1110.1,800.5 1117.1,800.5 H1126.1 C1133.1,800.5 1139.6,806.0 1139.6,813.5 Q1139.6,816.5 1136.6,816.5 H1106.6 Q1103.6,816.5 1103.6,813.5 Z"/>
</g>
<path d="M1427.25,779.7 L1444.8000000000002,812.3 H1409.6999999999998 Z" fill="#ee8612" stroke="#ee8612" stroke-width="5.2" stroke-linejoin="round"/>
<path d="M1427.25,789.574 V801.292" stroke="#fdebd0" stroke-width="4.90" stroke-linecap="round" fill="none"/>
<circle cx="1427.25" cy="807.9069999999999" r="3.04" fill="#fdebd0"/>
<text x="1453.25" y="806.8" font-size="31" fill="#df8a2e" font-weight="normal" text-anchor="start" textLength="132.52" lengthAdjust="spacingAndGlyphs" stroke="#df8a2e" stroke-width="0.35">Unknown</text>
<rect x="1801.4" y="769.6999999999999" width="159.19999999999982" height="52.4" rx="10" fill="#cfeeed"/>
<text x="1813.58" y="806.8" font-size="31" fill="#1f6c69" font-weight="normal" text-anchor="start" textLength="136.13" lengthAdjust="spacingAndGlyphs" stroke="#1f6c69" stroke-width="0.35">Complete</text>
<path d="M1496.5,577 V620 Q1496.5,629.5 1506,629.5 H1540" fill="none" stroke="#c4323d" stroke-width="3.3"/>
<circle cx="1496.5" cy="577" r="5.6" fill="#d9303a"/>
<rect x="1537.5" y="602" width="401.5" height="58.6" rx="11" fill="#e02c31"/>
<path d="M1573.0,615.4 L1590.8000000000002,647.1999999999999 H1555.1999999999998 Z" fill="#fff3f0" stroke="#fff3f0" stroke-width="5.2" stroke-linejoin="round"/>
<path d="M1573.0,625.01 V636.4799999999999" stroke="#e02c31" stroke-width="4.96" stroke-linecap="round" fill="none"/>
<circle cx="1573.0" cy="642.9549999999999" r="3.07" fill="#e02c31"/>
<text x="1607.24" y="642" font-size="31" fill="#fff0ee" font-weight="normal" text-anchor="start" textLength="318.14" lengthAdjust="spacingAndGlyphs" stroke="#fff0ee" stroke-width="0.8" stroke-linejoin="round">Age-dosage mismatch</text>
<circle cx="247.4" cy="988.8" r="37.7" fill="#20b0b1"/>
<path d="M229.2,988.3 L241.6,1001 L266.3,976.2" fill="none" stroke="#f2fffe" stroke-width="8.4" stroke-linecap="round" stroke-linejoin="round"/>
<text x="305.24" y="1011.6" font-size="63" fill="#25aeb0" font-weight="bold" text-anchor="start" textLength="463.51" lengthAdjust="spacingAndGlyphs" stroke="#25aeb0" stroke-width="1.2" stroke-linejoin="round">Passes all tests</text>
<path d="M1252,894 H1864 Q1886,894 1886,916 V1061.5 Q1886,1083.5 1864,1083.5 H1252 Q1230,1083.5 1230,1061.5 V1019 L1177,987.7 L1230,954 V916 Q1230,894 1252,894 Z" fill="#dddbf5" stroke="#2b1859" stroke-width="4.7" stroke-linejoin="round"/>
<text x="1295.3" y="975" font-size="62" fill="#2b1859" font-weight="bold" text-anchor="start" textLength="523.96" lengthAdjust="spacingAndGlyphs" stroke="#2b1859" stroke-width="1.2" stroke-linejoin="round">Unexpected error</text>
<text x="1358.44" y="1042.7" font-size="62" fill="#2b1859" font-weight="bold" text-anchor="start" textLength="398.42" lengthAdjust="spacingAndGlyphs" stroke="#2b1859" stroke-width="1.2" stroke-linejoin="round">in production</text>
<g id="robot" stroke-linejoin="round" stroke-linecap="round">
<!-- BODY : coordinates of zoom [890,1020,1170,1143] at 7.314x -->
<g transform="translate(890,1020) scale(0.13672)" stroke="#2a1758" stroke-width="35">
  <!-- arms -->
  <path d="M172,478 L400,600 L440,720 L385,905 L93,905 L117,812 L262,762 L314,778 L327,680 L262,664 L262,604 L165,598 Z" fill="#6b6aca"/>
  <path d="M1790,470 L1565,600 L1535,720 L1590,905 L1868,905 L1838,822 L1769,838 L1741,794 L1668,786 L1689,617 L1790,600 Z" fill="#6b6aca"/>
  <path d="M198,612 Q168,690 214,762" fill="none" stroke="#ee4b4e" stroke-width="30"/>
  <path d="M276,690 V748" fill="none" stroke="#ee6a6a" stroke-width="16"/>
  <path d="M1757,622 Q1838,700 1814,824" fill="none" stroke="#ee4b4e" stroke-width="30"/>
  <path d="M1713,633 Q1768,700 1769,800" fill="none" stroke="#1f6673" stroke-width="22"/>
  <!-- shoulders -->
  <path d="M425,238 C300,238 190,330 172,472 L400,596 C380,480 390,340 425,238 Z" fill="#27b9b3"/>
  <path d="M1535,238 C1655,238 1772,330 1792,472 L1565,596 C1585,480 1572,340 1535,238 Z" fill="#27b9b3"/>
  <!-- torso -->
  <path d="M520,190 H1440 C1500,190 1548,230 1552,300 C1556,420 1530,640 1468,905 H500 C430,640 392,420 398,300 C402,230 450,190 520,190 Z" fill="#6b6aca"/>
  <!-- neck -->
  <rect x="800" y="62" width="365" height="128" fill="#27b9b3"/>
  <!-- notch -->
  <path d="M1298,180 L1248,290 L1335,335 L1262,505 L1402,322 L1362,252 L1408,180" fill="#fefefd"/>
  <path d="M1230,176 H1420" stroke="#fefefd" stroke-width="30" stroke-linecap="butt"/>
  <!-- centre line -->
  <path d="M985,195 V470 M985,815 V905" fill="none" stroke-width="32"/>
  <!-- chest circle -->
  <circle cx="985" cy="640" r="166" fill="#27b9b3" stroke-width="35"/>
  <!-- cracks -->
  <path d="M412,512 L492,465 L582,502 L652,430 L728,426 M582,502 L650,612" fill="none" stroke-width="32"/>
  <path d="M1152,682 L1262,722 L1292,812 L1412,800 L1482,872" fill="none" stroke-width="32"/>
  <path d="M1532,750 L1500,910 L1570,910 Z" fill="#fefefd"/>
  <path d="M432,742 L396,910 L466,910 Z" fill="#fefefd"/>
</g>
<!-- HEAD : coordinates of zoom [910,860,1170,1040] at 6.35x -->
<g transform="translate(910,860) scale(0.15748)" stroke="#2a1758" stroke-width="31">
  <!-- antenna -->
  <path d="M180,370 V585" fill="none" stroke-width="33"/>
  <circle cx="180" cy="304" r="64" fill="#f4483c" stroke-width="31"/>
  <!-- ears -->
  <path d="M250,585 H205 C145,585 112,640 112,705 C112,770 145,825 205,825 H250 Z" fill="#27b9b3"/>
  <path d="M1195,585 H1240 C1300,585 1333,640 1333,705 C1333,770 1300,825 1240,825 H1195 Z" fill="#27b9b3"/>
  <!-- head shell -->
  <path d="M235,700 C235,480 300,350 410,282 L432,370 L537,356 L598,462 L588,332 L505,290 L517,215 C600,182 700,172 760,176 C850,182 920,205 945,230 L985,368 L932,398 L1060,378 L1100,340 C1170,420 1210,560 1210,700 V800 C1210,960 1150,1065 1040,1065 H400 C290,1065 235,960 235,800 Z" fill="#6b6aca"/>
  <path d="M932,398 L888,475" fill="none"/>
  <path d="M598,462 L602,478" fill="none"/>
  <path d="M852,226 L800,252 L832,300 L757,374" fill="none" stroke-width="30"/>
  <path d="M962,950 L986,985 L1045,976 L1076,1020 L1060,1048" fill="none" stroke-width="20"/>
  <path d="M1000,930 Q1060,930 1085,895" fill="none" stroke-width="18"/>
  <!-- screen -->
  <rect x="360" y="480" width="726" height="456" rx="105" fill="#2d1a5e" stroke="none"/>
  <!-- face -->
  <path d="M497,660 Q575,652 604,607" fill="none" stroke="#2fc3bd" stroke-width="32"/>
  <path d="M846,607 Q875,652 950,660" fill="none" stroke="#2fc3bd" stroke-width="32"/>
  <path d="M616,824 Q727,742 840,824" fill="none" stroke="#2fc3bd" stroke-width="32"/>
  <path d="M960,738 L1002,722 L1016,770 L1032,832 L1000,796 L984,808 L976,766 Z" fill="#f0434a" stroke="none"/>
  <!-- sparks -->
  <path d="M1120,40 L1080,125 L1150,110 L1110,212" fill="none" stroke-width="29"/>
  <path d="M1360,95 L1245,165 L1315,210 L1182,285" fill="none" stroke-width="29"/>
  <path d="M1410,325 L1310,330 L1350,385 L1245,372" fill="none" stroke-width="29"/>
</g>
</g>

</svg>
</body></html>
